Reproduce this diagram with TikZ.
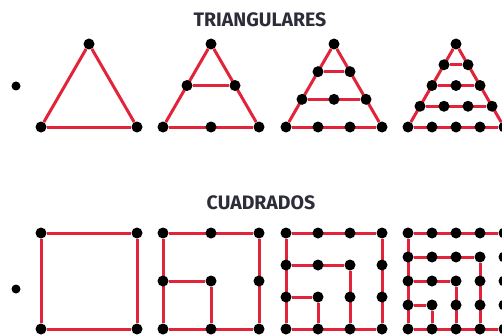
\documentclass[tikz,border=0pt]{standalone}
\usepackage{fontspec}
\setsansfont{Fira Sans}
\usetikzlibrary{backgrounds}
\definecolor{linered}{RGB}{226,36,58}
\definecolor{titlegray}{RGB}{45,45,58}
\tikzset{
  bead/.style={circle,fill=black,inner sep=0pt,minimum size=11pt},
  bullet/.style={circle,fill=black,inner sep=0pt,minimum size=9pt},
  side/.style={draw=linered,line width=3pt},
  heading/.style={font=\sffamily\bfseries\fontsize{19.5}{22}\selectfont,text=titlegray}
}
\begin{document}
\begin{tikzpicture}[x=1pt,y=-1pt]
        \clip (0,0) rectangle (502,334);
        \node[heading] (tri) at (260,20) {TRIANGULARES};
        \node[heading] (sq) at (261,203) {CUADRADOS};
        \node[bullet] (b1) at (16,86) {};
        \node[bullet] (b2) at (16,289) {};
        % triangular numbers
        \foreach \n/\l in {1/41,2/163,3/286,4/408}{
            \foreach \j in {0,...,\n}
                \foreach \i in {0,...,\j}
                    \node[bead] (t\n-\j-\i) at ({\l+48-\j*48/\n+\i*96/\n},{44+\j*83/\n}) {};
            \begin{scope}[on background layer]
                \draw[side] (t\n-0-0) -- (t\n-\n-0) (t\n-0-0) -- (t\n-\n-\n);
                \foreach \j in {1,...,\n}
                    \draw[side] (t\n-\j-0) -- (t\n-\j-\j);
            \end{scope}
        }
        % square numbers
        \foreach \n/\l in {1/41,2/163,3/286,4/408}{
            \foreach \j in {0,...,\n}
                \foreach \i in {0,...,\n}
                    \node[bead] (s\n-\i-\j) at ({\l+\i*96/\n},{233+\j*96/\n}) {};
            \begin{scope}[on background layer]
                \draw[side] (s\n-0-0) -- (s\n-\n-0) -- (s\n-\n-\n) -- (s\n-0-\n) -- (s\n-0-0);
                \foreach \k in {1,...,\n}{
                    \ifnum\k<\n
                        \pgfmathtruncatemacro\m{\n-\k}
                        \draw[side] (s\n-0-\k) -- (s\n-\m-\k) -- (s\n-\m-\n);
                    \fi
                }
            \end{scope}
        }
\end{tikzpicture}
\end{document}
